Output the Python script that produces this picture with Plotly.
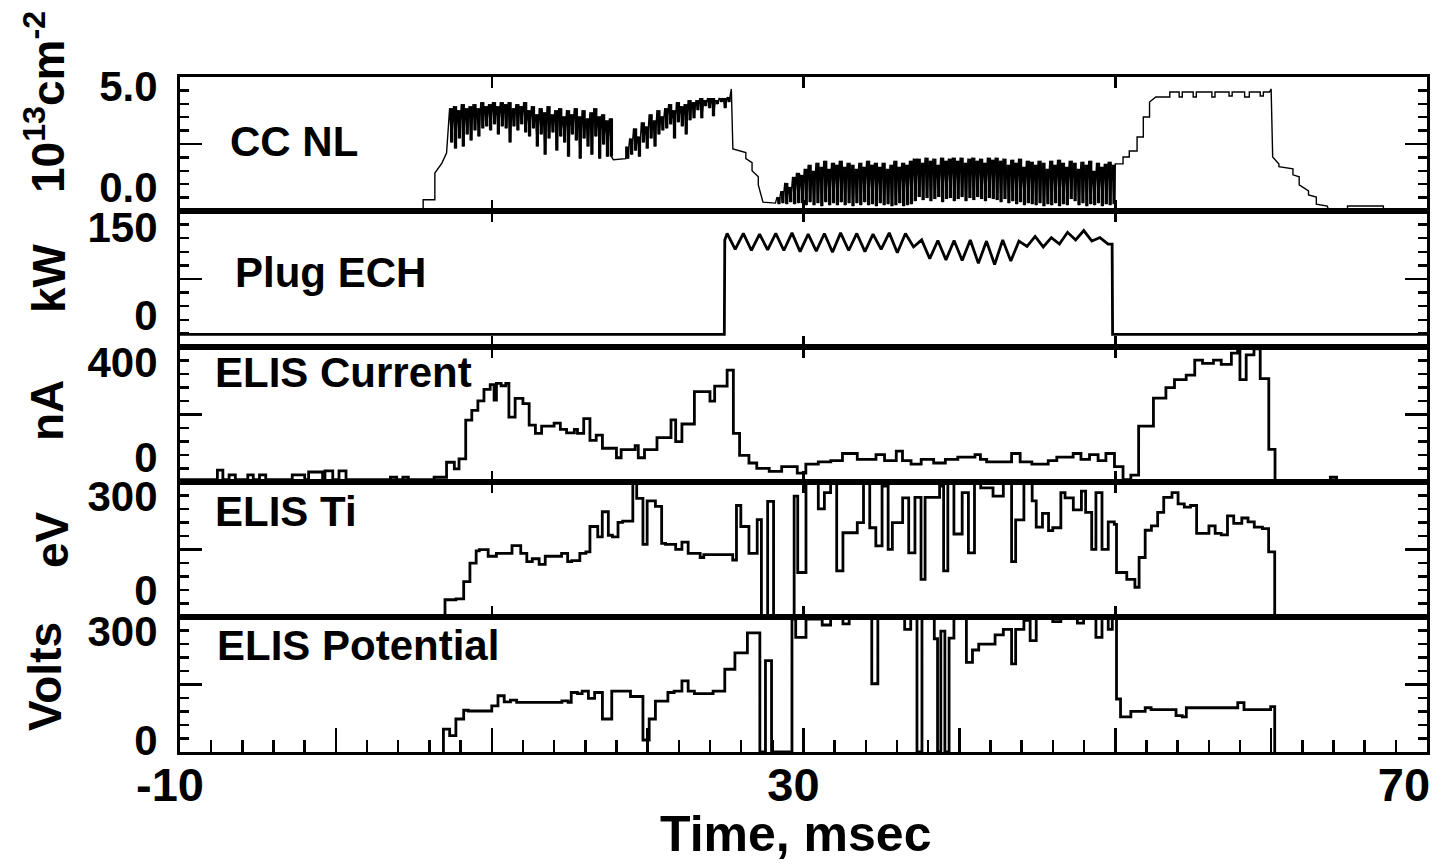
import plotly.graph_objects as go

# ---------------- data ----------------
panel_names = ['CC NL', 'Plug ECH', 'ELIS Current', 'ELIS Ti', 'ELIS Potential']
unit_titles = ['10<sup>13</sup>cm<sup>-2</sup>', 'kW', 'nA', 'eV', 'Volts']
y_tick_vals = [[0.0, 5.0], [0, 150], [0, 400], [0, 300], [0, 300]]
y_tick_text = [['0.0', '5.0'], ['0', '150'], ['0', '400'], ['0', '300'], ['0', '300']]
y_ranges = [[-1.19, 5.44], [-54.5, 177.3], [-105, 463], [-86, 345], [-33, 339]]
x_range = [-10, 70]
x_major_ticks = [-10, 0, 10, 20, 30, 40, 50, 60, 70]
x_tick_text = ['-10', '', '', '', '30', '', '', '', '70\u00a0\u00a0']
x_boundary_ticks = [10, 30, 50]

# CC NL line density (10^13 cm^-2)
ccnl_rise_t = [-10, 5.6, 5.6, 6.35, 6.35, 6.8, 6.8, 7.1, 7.1]
ccnl_rise_v = [-1.15, -1.15, -0.63, -0.63, 0.69, 1.18, 1.18, 1.68, 1.68]
ccnl_plateau_hi = [3.9, 4.0, 3.8, 4.1, 3.9, 4.0, 4.1, 3.9, 4.2, 4.0,
                   4.1, 4.2, 4.0, 4.2, 4.1, 4.2, 3.9, 4.1, 4.0, 4.2,
                   3.8, 4.0, 3.6, 3.9, 3.7, 4.0, 3.6, 3.8, 3.9, 3.5,
                   3.8, 3.6, 3.9, 3.5, 3.8, 3.4, 3.7, 3.9, 3.5, 3.6,
                   3.3, 3.4]
ccnl_plateau_lo = [2.2, 1.9, 2.4, 2.0, 2.6, 2.3, 2.8, 2.5, 2.9, 3.0,
                   2.8, 3.1, 2.6, 3.0, 2.9, 2.2, 3.0, 2.8, 3.1, 2.7,
                   2.5, 2.9, 2.0, 2.6, 1.6, 2.4, 2.7, 1.8, 2.5, 2.2,
                   1.5, 2.6, 2.3, 1.4, 2.4, 2.0, 1.6, 2.5, 1.4, 2.1,
                   1.5, 1.5]
ccnl_dip_t = [17.8, 18.6]
ccnl_dip_v = [1.35, 1.4]
ccnl_recover_hi = [2.0, 2.4, 2.9, 2.5, 3.2, 3.0, 3.6, 3.3, 3.8, 3.5]
ccnl_recover_lo = [1.4, 1.6, 1.8, 1.5, 2.2, 1.9, 2.4, 2.0, 2.6, 2.8]
ccnl_top_hi = [3.9, 4.1, 3.8, 4.2, 4.0, 4.1, 4.3, 4.2]
ccnl_top_lo = [2.9, 3.1, 2.4, 3.2, 3.0, 2.6, 3.3, 3.4]
ccnl_flat_hi = [4.3, 4.4, 4.3, 4.4, 4.4, 4.3, 4.4, 4.4, 4.45]
ccnl_flat_lo = [3.8, 3.4, 4.0, 3.9, 3.5, 4.1, 4.2, 3.9, 4.2]
ccnl_fall_t = [25.37, 25.47, 26.3, 26.3, 26.7, 26.7, 27.1, 27.1, 27.4, 28.2]
ccnl_fall_v = [4.85, 1.88, 1.7, 1.4, 1.2, 0.8, 0.5, 0.1, -0.75, -0.8]
ccnl_ramp_hi = [-0.5, -0.2, 0.2, 0.0, 0.5, 0.7]
ccnl_ramp_lo = [-0.85, -0.8, -0.85, -0.75, -0.85, -0.8]
ccnl_band_hi = [0.6, 0.9, 1.1, 0.8, 1.2, 1.0, 1.3, 0.9, 1.2, 1.1,
                1.3, 1.0, 1.2, 1.1, 0.9, 1.2, 1.0, 1.3, 1.1, 1.2,
                1.0, 1.2, 0.9, 1.1, 1.3, 1.0, 1.2, 1.1, 1.3, 1.4,
                1.4, 1.2, 1.45, 1.3, 1.4, 1.1, 1.45, 1.3, 1.4, 1.45,
                1.3, 1.45, 1.2, 1.4, 1.45, 1.3, 1.4, 1.2, 1.45, 1.35,
                1.45, 1.3, 1.4, 1.1, 1.35, 1.2, 1.4, 1.0, 1.3, 1.25,
                1.1, 1.3, 1.2, 0.9, 1.3, 1.1, 1.35, 1.2, 1.0, 1.3,
                1.2, 0.9, 1.25, 1.1, 1.3, 0.8, 1.2, 1.0, 1.15, 1.25, 1.1]
ccnl_band_lo = [-0.8, -0.9, -0.75, -0.9, -0.8, -0.95, -0.75, -0.9, -0.8, -0.9,
                -0.75, -0.9, -0.8, -0.95, -0.8, -0.9, -0.75, -0.9, -0.85, -0.95,
                -0.8, -0.9, -0.85, -0.95, -0.9, -0.8, -0.95, -0.9, -0.85, -0.7,
                -0.5, -0.65, -0.55, -0.7, -0.6, -0.5, -0.75, -0.6, -0.55, -0.7,
                -0.6, -0.5, -0.7, -0.55, -0.65, -0.5, -0.6, -0.7, -0.55, -0.6,
                -0.65, -0.75, -0.6, -0.8, -0.7, -0.85, -0.75, -0.9, -0.8, -0.85,
                -0.9, -0.8, -0.95, -0.85, -0.9, -0.8, -0.95, -0.85, -0.9, -0.6,
                -0.7, -0.9, -0.8, -0.95, -0.85, -0.9, -0.8, -0.95, -0.85, -0.9, -0.85]
ccnl_end_t = [50.0, 50.5, 50.5, 50.9, 50.9, 51.4, 51.4, 51.8, 51.8, 52.2, 52.2, 52.6,
              53.5, 53.5, 54.1, 54.1, 54.3, 54.3, 55.0, 55.0, 55.2, 55.2, 56.2, 56.2,
              56.4, 56.4, 57.3, 57.3, 57.5, 57.5, 58.3, 58.3, 58.6, 58.6, 59.3, 59.3,
              59.5, 59.5, 59.9, 60.0, 60.1, 60.5, 60.5, 61.4, 61.4, 61.8, 61.8, 62.4,
              62.4, 62.9, 62.9, 63.6, 63.7, 64.9, 64.9, 67.2, 67.2, 67.6]
ccnl_end_v = [1.14, 1.14, 1.48, 1.48, 1.78, 1.78, 2.47, 2.47, 3.46, 3.46, 4.2, 4.45,
              4.45, 4.7, 4.7, 4.45, 4.45, 4.7, 4.7, 4.45, 4.45, 4.7, 4.7, 4.45,
              4.45, 4.7, 4.7, 4.5, 4.5, 4.7, 4.7, 4.45, 4.45, 4.7, 4.7, 4.5,
              4.5, 4.7, 4.7, 4.85, 1.48, 1.14, 1.0, 0.9, 0.6, 0.5, 0.1, -0.2,
              -0.4, -0.5, -0.85, -0.95, -1.15, -1.15, -0.94, -0.94, -1.15, -1.15]
# start times of the noisy (min/max) stretches, sampled every 0.25 ms
ccnl_noise_starts = [7.3, 18.6, 21.1, 23.1, 28.3, 29.8]
ccnl_noise_step = 0.25

# Plug ECH power (kW)
ech_off_level = -33
ech_on_level = 128
ech_on_t, ech_off_t = 24.92, 49.8
ech_wiggle_t0, ech_wiggle_step = 25.1, 0.52
ech_wiggle_v = [139, 112, 139, 110, 138, 111, 139, 110, 140, 108,
                138, 109, 139, 107, 140, 110, 139, 108, 138, 112,
                140, 106, 139, 116, 128, 96, 127, 94, 127, 93,
                128, 88, 126, 86, 128, 92, 126, 117, 134, 116,
                132, 121, 141, 128, 144, 126, 132, 121]

# ELIS current (nA), step data (time, value)
elis_current = [(-10, -95), (-7.6, -55), (-7.25, -95), (-6.85, -75), (-6.45, -95),
                (-5.65, -75), (-5.3, -95), (-4.9, -75), (-4.5, -95), (-2.8, -75),
                (-2.0, -95), (-1.75, -63), (-0.85, -95), (-0.7, -58), (-0.2, -95),
                (0.2, -58), (0.65, -95), (3.5, -85), (3.9, -95), (4.3, -85),
                (4.65, -95), (6.3, -85), (7.1, -22), (7.6, -50), (7.9, -8),
                (8.33, 155), (8.72, 196), (9.11, 236), (9.5, 285), (9.9, 305),
                (10.15, 240), (10.3, 310), (10.6, 300), (10.9, 310), (11.1, 168),
                (11.5, 247), (12.0, 225), (12.4, 134), (12.8, 100), (13.2, 130),
                (14.0, 143), (14.4, 116), (14.8, 102), (15.3, 116), (15.5, 100),
                (15.9, 162), (16.3, 70), (16.7, 92), (17.1, 37), (18.0, -3),
                (18.3, 31), (19.2, 48), (19.4, -3), (19.8, 31), (20.6, 82),
                (21.5, 156), (21.8, 65), (22.2, 139), (23.0, 275), (24.0, 235),
                (24.3, 298), (25.1, 366), (25.5, 100), (25.9, 7), (26.5, -25),
                (27.0, -48), (27.8, -60), (28.6, -40), (29.6, -68), (30.15, -30),
                (30.95, -20), (31.75, -15), (32.5, 15), (33.45, -10), (34.65, 10),
                (35.2, -15), (35.95, 25), (36.35, -15), (36.9, -30), (37.55, -10),
                (38.35, -25), (39.1, -10), (39.9, 0), (41.0, 10), (41.35, -10),
                (41.75, -20), (43.35, 15), (43.9, -20), (44.65, -30), (45.7, -15),
                (46.25, 0), (47.3, 15), (47.8, -10), (48.35, 10), (48.9, -15),
                (49.4, 15), (49.95, -40), (50.5, -95), (51.0, -76), (51.5, 130),
                (52.45, 248), (53.25, 292), (53.8, 326), (54.55, 345), (55.1, 408),
                (55.6, 394), (56.3, 408), (56.8, 390), (57.45, 437), (57.85, 455),
                (58.0, 326), (58.4, 430), (58.9, 455), (59.3, 330), (59.85, 32),
                (60.25, -100), (63.8, -85), (64.2, -100), (70, -100)]

# ELIS ion temperature (eV), step data
elis_ti = [(7.0, -86), (7.0, -31), (7.7, -28), (8.2, 27), (8.6, 86), (9.0, 125),
           (9.2, 129), (9.77, 108), (10.3, 117), (11.3, 142), (11.86, 117),
           (12.25, 91), (12.6, 100), (13.04, 82), (13.43, 108), (14.48, 117),
           (14.87, 91), (15.13, 94), (15.65, 117), (16.04, 122), (16.3, 203),
           (16.8, 170), (17.09, 250), (17.48, 175), (17.74, 170), (18.1, 216),
           (18.4, 220), (19.05, 340), (19.3, 293), (19.7, 146), (19.97, 285),
           (20.5, 267), (20.9, 149), (21.15, 146), (21.8, 130), (22.2, 153),
           (22.6, 117), (23.37, 104), (23.6, 113), (25.46, 96), (25.7, 270),
           (25.98, 203), (26.5, 117), (27.03, 225), (27.3, -86), (27.7, 283),
           (28.08, -86), (29.4, 300), (29.63, 56), (30.16, 340), (30.95, 259),
           (31.34, 311), (31.74, 340), (32.13, 61), (32.53, 183), (33.45, 215),
           (33.85, 340), (34.25, 199), (34.64, 141), (35.04, 332), (35.43, 130),
           (35.7, 215), (36.36, 294), (36.75, 119), (37.15, 296), (37.54, 34),
           (37.8, 296), (38.73, 332), (38.99, 61), (39.26, 340), (39.65, 179),
           (40.18, 311), (40.58, 119), (40.97, 340), (41.37, 326), (42.16, 300),
           (42.82, 340), (43.35, 91), (43.61, 224), (44.14, 340), (44.67, 285),
           (44.93, 201), (45.33, 245), (45.72, 190), (45.99, 199), (46.51, 311),
           (46.78, 294), (47.31, 256), (47.83, 316), (48.1, 248), (48.49, 130),
           (48.76, 311), (49.15, 130), (49.55, 218), (49.94, 210), (50.08, 56),
           (50.74, 34), (51.26, 9), (51.53, 104), (51.92, 191), (52.32, 205),
           (52.72, 248), (53.11, 296), (53.64, 311), (54.03, 275), (54.43, 265),
           (54.83, 270), (55.22, 181), (56.01, 205), (56.41, 181), (56.8, 176),
           (57.2, 237), (57.6, 213), (58.12, 230), (58.52, 218), (58.92, 201),
           (59.44, 196), (59.84, 122), (60.23, -86)]

# ELIS potential (Volts), step data
elis_potential = [(6.9, -33), (6.9, 30), (7.3, 12), (7.7, 58), (8.2, 82), (8.5, 80),
                  (10.0, 94), (10.4, 122), (10.8, 105), (11.2, 110), (11.6, 104),
                  (14.5, 108), (14.9, 104), (15.1, 131), (15.5, 128), (15.8, 135),
                  (16.2, 115), (16.6, 131), (17.1, 58), (17.7, 135), (18.9, 120),
                  (19.7, 0), (20.1, 58), (20.5, 107), (21.3, 131), (21.7, 135),
                  (22.2, 163), (22.6, 135), (23.0, 128), (24.2, 135), (24.95, 195),
                  (25.6, 240), (26.4, 295), (27.2, -33), (27.56, 219), (27.95, -33),
                  (29.26, 333), (29.5, 283), (30.16, 333), (31.2, 317), (31.74, 336),
                  (32.53, 320), (32.93, 336), (34.38, 155), (34.77, 336), (36.49, 305),
                  (36.88, 336), (37.28, -33), (37.6, 336), (38.39, 279), (38.6, -33),
                  (38.81, 300), (39.07, -33), (39.34, 281), (39.65, 336), (40.45, 214),
                  (40.84, 248), (41.24, 264), (42.29, 290), (42.82, 305), (43.35, 210),
                  (43.61, 305), (44.14, 330), (44.54, 274), (44.93, 336), (45.99, 326),
                  (46.51, 336), (47.57, 322), (47.97, 336), (48.76, 283), (49.15, 336),
                  (49.55, 305), (49.81, 336), (50.08, 113), (50.34, 64), (51.0, 79),
                  (51.92, 89), (52.3, 84), (53.9, 67), (54.3, 64), (54.56, 89),
                  (57.86, 103), (58.26, 84), (59.97, 92), (60.23, -33)]


# ---------------- assemble series ----------------
def zigzag(t0, step, hi, lo):
    t, v = [], []
    for i, (h, l) in enumerate(zip(hi, lo)):
        t += [t0 + i * step, t0 + i * step + step / 2]
        v += [h, l]
    return t, v


S = ccnl_noise_step
noise = list(zip(ccnl_noise_starts,
                 [ccnl_plateau_hi, ccnl_recover_hi, ccnl_top_hi, ccnl_flat_hi, ccnl_ramp_hi, ccnl_band_hi],
                 [ccnl_plateau_lo, ccnl_recover_lo, ccnl_top_lo, ccnl_flat_lo, ccnl_ramp_lo, ccnl_band_lo]))
zz = [zigzag(t0, S, hi, lo) for t0, hi, lo in noise]
segs = [(ccnl_rise_t, ccnl_rise_v), zz[0], (ccnl_dip_t, ccnl_dip_v), zz[1], zz[2], zz[3],
        (ccnl_fall_t, ccnl_fall_v), zz[4], zz[5], (ccnl_end_t, ccnl_end_v)]
ccnl_t, ccnl_v = [], []
for a, b in segs:
    ccnl_t += list(a)
    ccnl_v += list(b)

# min/max envelope bars for the fast-fluctuating stretches
bar_x, bar_base, bar_h = [], [], []
for t0, hi, lo in noise:
    for i, (h, l) in enumerate(zip(hi, lo)):
        bar_x.append(t0 + i * S + S / 2)
        bar_base.append(l)
        bar_h.append(h - l)

ech_t = ([-10, ech_on_t, ech_on_t + 0.03]
         + [ech_wiggle_t0 + i * ech_wiggle_step for i in range(len(ech_wiggle_v))]
         + [ech_off_t, ech_off_t + 0.03, 70])
ech_v = ([ech_off_level, ech_off_level, ech_on_level] + ech_wiggle_v
         + [ech_wiggle_v[-1], ech_off_level, ech_off_level])

cur_t, cur_v = zip(*elis_current)
ti_t, ti_v = zip(*elis_ti)
pot_t, pot_v = zip(*elis_potential)

series = [
    (ccnl_t, ccnl_v, 'linear', 1.4),
    (ech_t, ech_v, 'linear', 2.8),
    (cur_t, cur_v, 'hv', 2.8),
    (ti_t, ti_v, 'hv', 2.8),
    (pot_t, pot_v, 'hv', 2.8),
]

# ---------------- figure ----------------
W, H = 1435, 863
XL, XR = 180, 1427
panel_edges = [77, 211, 347, 482, 617, 752]   # pixel rows of panel borders
FONT = 'Liberation Sans'

fig = go.Figure()
layout = dict(
    template='none',
    width=W, height=H, autosize=False,
    margin=dict(l=0, r=0, t=0, b=0, pad=0),
    paper_bgcolor='white', plot_bgcolor='white',
    showlegend=False, barmode='overlay',
    font=dict(family=FONT, color='black', size=40),
)

for k in range(5):
    n = k + 1
    xs = '' if n == 1 else str(n)
    ov = str(n + 5)
    ydom = [(H - panel_edges[k + 1]) / H, (H - panel_edges[k]) / H]
    r0, r1 = y_ranges[k]
    t, v, shape, lw = series[k]
    if k == 0:
        fig.add_trace(go.Bar(x=bar_x, y=bar_h, base=bar_base, width=S * 0.85,
                             xaxis='x', yaxis='y', marker=dict(color='black', line=dict(width=0)),
                             hoverinfo='skip'))
    fig.add_trace(go.Scatter(x=list(t), y=list(v), mode='lines', xaxis='x' + xs, yaxis='y' + xs,
                             line=dict(color='black', width=lw, shape=shape), hoverinfo='skip'))
    # same series, invisible, on the overlay axis that carries the tick marks
    fig.add_trace(go.Scatter(x=list(t), y=list(v), mode='lines', xaxis='x' + xs, yaxis='y' + ov,
                             line=dict(color='rgba(0,0,0,0)', width=0.1, shape=shape),
                             hoverinfo='skip'))

    # labelled axis (box + tick labels)
    layout['yaxis' + xs] = dict(
        domain=ydom, anchor='x' + xs, range=[r0, r1], fixedrange=True, automargin=False,
        showline=True, linecolor='black', linewidth=3, mirror=True,
        showgrid=False, zeroline=False,
        tickmode='array', tickvals=y_tick_vals[k], ticktext=y_tick_text[k],
        ticks='', tickfont=dict(family=FONT, size=42, color='black', weight='bold'),
        ticklabelstandoff=11,
    )
    # overlay axis carrying the tick marks (10 divisions, long one at middle)
    minor_vals = [r0 + (r1 - r0) * j / 10 for j in range(1, 10) if j != 5]
    layout['yaxis' + ov] = dict(
        overlaying='y' + xs, anchor='x' + xs, range=[r0, r1], fixedrange=True, automargin=False,
        showline=False, showgrid=False, zeroline=False, showticklabels=False,
        tickmode='array', tickvals=[(r0 + r1) / 2], ticks='inside', ticklen=22,
        tickwidth=2.5, tickcolor='black', mirror='ticks',
        minor=dict(tickmode='array', tickvals=minor_vals, ticks='inside', ticklen=9,
                   tickwidth=2.5, tickcolor='black', showgrid=False),
    )

    xa = dict(
        domain=[XL / W, XR / W], anchor='y' + xs, range=x_range, fixedrange=True,
        automargin=False, showline=True, linecolor='black', linewidth=3,
        showgrid=False, zeroline=False,
    )
    if n < 5:
        xa.update(tickmode='array', tickvals=x_boundary_ticks, ticks='inside', ticklen=11,
                  tickwidth=2.5, tickcolor='black', mirror='ticks', showticklabels=False)
    else:
        xa.update(tickmode='array', tickvals=x_major_ticks, ticktext=x_tick_text,
                  ticks='inside', ticklen=24, tickwidth=2.5, tickcolor='black', mirror=True,
                  tickfont=dict(family=FONT, size=47, color='black', weight='bold'),
                  ticklabelstandoff=-10, ticklabelshift=-10, ticklabeloverflow='allow',
                  minor=dict(dtick=2, tick0=0, ticks='inside', ticklen=12, tickwidth=2.5,
                             tickcolor='black', showgrid=False))
    layout['xaxis' + xs] = xa

annotations = []
# panel labels (left x, vertical centre in px)
label_pos = [(228, 142), (233, 272), (213, 372), (213, 511), (215, 645)]
for name, (px, py) in zip(panel_names, label_pos):
    annotations.append(dict(text=name, xref='paper', yref='paper', x=px / W, y=1 - py / H,
                            xanchor='left', yanchor='middle', showarrow=False,
                            font=dict(family=FONT, size=42, color='black', weight='bold')))
# unit titles (rotated)
title_pos = [(45, 102), (49, 278), (47, 410), (52, 540), (45, 677)]
for name, (px, py) in zip(unit_titles, title_pos):
    annotations.append(dict(text=name, xref='paper', yref='paper',
                            x=px / W, y=1 - py / H, xanchor='center', yanchor='middle',
                            textangle=-90, showarrow=False,
                            font=dict(family=FONT, size=46, color='black', weight='bold')))
annotations.append(dict(text='Time, msec', xref='paper', yref='paper',
                        x=795 / W, y=1 - 834 / H, xanchor='center', yanchor='middle',
                        showarrow=False, font=dict(family=FONT, size=50, color='black', weight='bold')))
layout['annotations'] = annotations

fig.update_layout(**layout)
fig.write_html('out.html', include_plotlyjs=True, full_html=True,
               config={'displayModeBar': False, 'staticPlot': True})
